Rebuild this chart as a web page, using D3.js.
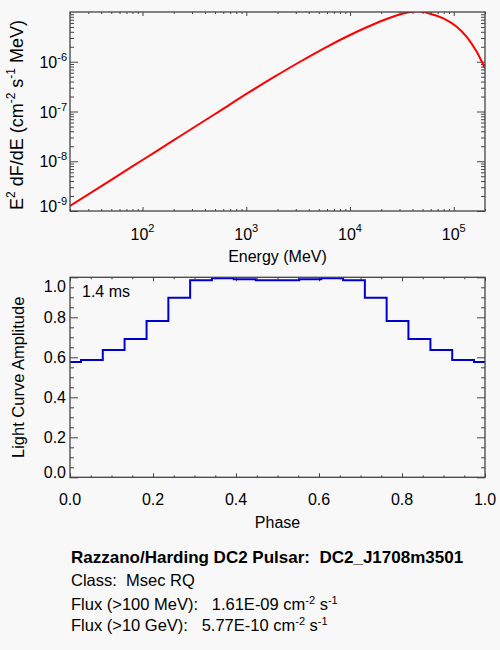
<!DOCTYPE html>
<html><head><meta charset="utf-8">
<script src="https://cdn.jsdelivr.net/npm/d3@7"></script>
<style>
html,body{margin:0;padding:0;background:#f8f8f8;}
svg{display:block;font-family:"Liberation Sans",Arial,Helvetica,sans-serif;}
text{fill:#000;white-space:pre;}
</style></head><body><svg id="c" width="500" height="650"></svg>
<script>
// ---- Spectrum (E^2 dF/dE) ----
const energyMeV = [20, 50, 100, 200, 500, 1087, 1892, 3296, 5741, 10000, 13950, 19450, 27150, 33880, 45230, 59040, 79300, 106700, 133300, 166400, 200000];
const e2dFdE    = [1.26e-9, 4.24e-9, 1.06e-8, 2.65e-8, 8.91e-8, 2.50e-7, 5.06e-7, 1.00e-6, 1.91e-6, 3.45e-6, 4.77e-6, 6.44e-6, 8.32e-6, 9.55e-6, 1.03e-5, 9.25e-6, 7.46e-6, 5.07e-6, 3.18e-6, 1.59e-6, 7.38e-7];
const specXTicks = [1e2, 1e3, 1e4, 1e5];
const specXExp   = ["2", "3", "4", "5"];
const specYTicks = [1e-9, 1e-8, 1e-7, 1e-6];
const specYExp   = ["-9", "-8", "-7", "-6"];

// ---- Light curve ----
const phase     = [0.000, 0.053, 0.105, 0.158, 0.211, 0.263, 0.316, 0.368, 0.421, 0.474, 0.526, 0.579, 0.632, 0.684, 0.737, 0.789, 0.842, 0.895, 0.947, 1.000];
const amplitude = [0.577, 0.587, 0.637, 0.692, 0.782, 0.898, 0.985, 0.995, 0.990, 0.985, 0.985, 0.990, 0.995, 0.985, 0.898, 0.782, 0.692, 0.637, 0.587, 0.577];
const lcXTicks = [0, 0.2, 0.4, 0.6, 0.8, 1.0];
const lcYTicks = [0, 0.2, 0.4, 0.6, 0.8, 1.0];
const periodLabel = "1.4 ms";

// ---- Info text ----
const infoTitle = "Razzano/Harding DC2 Pulsar:  DC2_J1708m3501";
const infoClass = "Class:  Msec RQ";
const fluxLabels = ["Flux (>100 MeV):   ", "Flux (>10 GeV):   "];
const fluxValues = ["1.61E-09", "5.77E-10"];

const svg = d3.select("#c");
svg.append("rect").attr("width", 500).attr("height", 650).attr("fill", "#f8f8f8");
const AX = "#444";

function ticks(scale, vals, orient, pos, len) {
  const gen = {bottom: d3.axisBottom, top: d3.axisTop, left: d3.axisLeft, right: d3.axisRight}[orient];
  const ax = gen(scale).tickValues(vals).tickSizeInner(-len).tickSizeOuter(0).tickFormat("");
  const g = svg.append("g")
    .attr("transform", (orient === "bottom" || orient === "top") ? `translate(0,${pos})` : `translate(${pos},0)`)
    .call(ax);
  g.select(".domain").remove();
  g.selectAll("line").attr("stroke", AX).attr("stroke-width", 1);
}
function frame(P) {
  svg.append("rect").attr("x", P.l).attr("y", P.t).attr("width", P.r - P.l).attr("height", P.b - P.t)
    .attr("fill", "none").attr("stroke", AX).attr("stroke-width", 1.3);
}
const clampY = (y, P) => Math.max(P.t + 14, Math.min(P.b + 1, y));

// ================= Top panel =================
const P1 = {l: 70, r: 485, t: 12, b: 211};
const xE = d3.scaleLog().domain([20, 2e5]).range([P1.l, P1.r]);
const yF = d3.scaleLog().domain([1e-9, 1e-5]).range([P1.b, P1.t]);
const isDecade = v => Math.abs(Math.log10(v) - Math.round(Math.log10(v))) < 1e-6;

const xMinor = xE.ticks().filter(v => !isDecade(v));
const yMinor = yF.ticks().filter(v => !isDecade(v));
ticks(xE, specXTicks, "bottom", P1.b, 4);
ticks(xE, xMinor, "bottom", P1.b, 2);
ticks(xE, specXTicks, "top", P1.t, 4);
ticks(xE, xMinor, "top", P1.t, 2);
ticks(yF, specYTicks, "left", P1.l, 8);
ticks(yF, yMinor, "left", P1.l, 4);
ticks(yF, specYTicks, "right", P1.r, 8);
ticks(yF, yMinor, "right", P1.r, 4);

svg.append("clipPath").attr("id", "clip1").append("rect")
  .attr("x", P1.l).attr("y", P1.t).attr("width", P1.r - P1.l).attr("height", P1.b - P1.t);
const spec = energyMeV.map((e, i) => [e, e2dFdE[i]]);
svg.append("path").datum(spec)
  .attr("clip-path", "url(#clip1)")
  .attr("fill", "none").attr("stroke", "#ff0000").attr("stroke-width", 2)
  .attr("d", d3.line().x(d => xE(d[0])).y(d => yF(d[1])).curve(d3.curveMonotoneX));
frame(P1);

specXTicks.forEach((v, i) => {
  const t = svg.append("text").attr("x", xE(v)).attr("y", P1.b + 29)
    .attr("text-anchor", "middle").attr("font-size", 16);
  t.append("tspan").text("10");
  t.append("tspan").attr("dy", -8).attr("font-size", 11).text(specXExp[i]);
});
specYTicks.forEach((v, i) => {
  const t = svg.append("text").attr("x", 67).attr("y", clampY(yF(v) + 6, P1))
    .attr("text-anchor", "end").attr("font-size", 16);
  t.append("tspan").text("10");
  t.append("tspan").attr("dy", -7).attr("font-size", 11).text(specYExp[i]);
});
svg.append("text").attr("x", (P1.l + P1.r) / 2).attr("y", 262)
  .attr("text-anchor", "middle").attr("font-size", 16).text("Energy (MeV)");
{
  const t = svg.append("text").attr("transform", `translate(23,115) rotate(-90)`)
    .attr("text-anchor", "middle").attr("font-size", 18);
  const parts = [["E", 0], ["2", 1], [" dF/dE (cm", 0], ["-2", 1], [" s", 0], ["-1", 1], [" MeV)", 0]];
  let up = false;
  parts.forEach(([s, sup]) => {
    const ts = t.append("tspan").text(s);
    if (sup && !up) { ts.attr("dy", -8).attr("font-size", 12); up = true; }
    else if (!sup && up) { ts.attr("dy", 8); up = false; }
    else if (sup) ts.attr("font-size", 12);
  });
}

// ================= Bottom panel =================
const P2 = {l: 70, r: 485, t: 277.3, b: 477.3};
const xP = d3.scaleLinear().domain([0, 1]).range([P2.l, P2.r]);
const yA = d3.scaleLinear().domain([0, 1]).range([P2.b, P2.t]);
const notMajor = v => Math.abs(v / 0.2 - Math.round(v / 0.2)) > 1e-6;
const pxMinor = xP.ticks(20).filter(notMajor);
const pyMinor = yA.ticks(20).filter(notMajor);
ticks(xP, lcXTicks, "bottom", P2.b, 4);
ticks(xP, pxMinor, "bottom", P2.b, 2);
ticks(xP, lcXTicks, "top", P2.t, 4);
ticks(xP, pxMinor, "top", P2.t, 2);
ticks(yA, lcYTicks, "left", P2.l, 8);
ticks(yA, pyMinor, "left", P2.l, 4);
ticks(yA, lcYTicks, "right", P2.r, 8);
ticks(yA, pyMinor, "right", P2.r, 4);

const lc = phase.map((p, i) => [p, amplitude[i]]);
svg.append("path").datum(lc)
  .attr("fill", "none").attr("stroke", "#0000cc").attr("stroke-width", 2)
  .attr("d", d3.line().x(d => xP(d[0])).y(d => yA(d[1])).curve(d3.curveStep));
frame(P2);

const f1 = d3.format(".1f");
lcXTicks.forEach(v => {
  svg.append("text").attr("x", xP(v)).attr("y", P2.b + 28).attr("text-anchor", "middle")
    .attr("font-size", 16).text(f1(v));
});
lcYTicks.forEach(v => {
  svg.append("text").attr("x", 66).attr("y", Math.max(P2.t + 14.2, Math.min(P2.b + 0.2, yA(v) + 5.8)))
    .attr("text-anchor", "end").attr("font-size", 16).text(f1(v));
});
svg.append("text").attr("x", 82).attr("y", 297).attr("font-size", 16).text(periodLabel);
svg.append("text").attr("x", (P2.l + P2.r) / 2).attr("y", 528)
  .attr("text-anchor", "middle").attr("font-size", 16).text("Phase");
svg.append("text").attr("transform", `translate(24,${(P2.t + P2.b) / 2}) rotate(-90)`)
  .attr("text-anchor", "middle").attr("font-size", 16.5).text("Light Curve Amplitude");

// ================= Info text =================
svg.append("text").attr("x", 71).attr("y", 563).attr("font-size", 17).attr("font-weight", "bold").text(infoTitle);
svg.append("text").attr("x", 71).attr("y", 586).attr("font-size", 16.5).text(infoClass);
[610, 631].forEach((y, i) => {
  const t = svg.append("text").attr("x", 71).attr("y", y).attr("font-size", 16.5);
  t.append("tspan").text(fluxLabels[i] + fluxValues[i] + " cm");
  t.append("tspan").attr("dy", -6).attr("font-size", 11).text("-2");
  t.append("tspan").attr("dy", 6).text(" s");
  t.append("tspan").attr("dy", -6).attr("font-size", 11).text("-1");
});
</script></body></html>
